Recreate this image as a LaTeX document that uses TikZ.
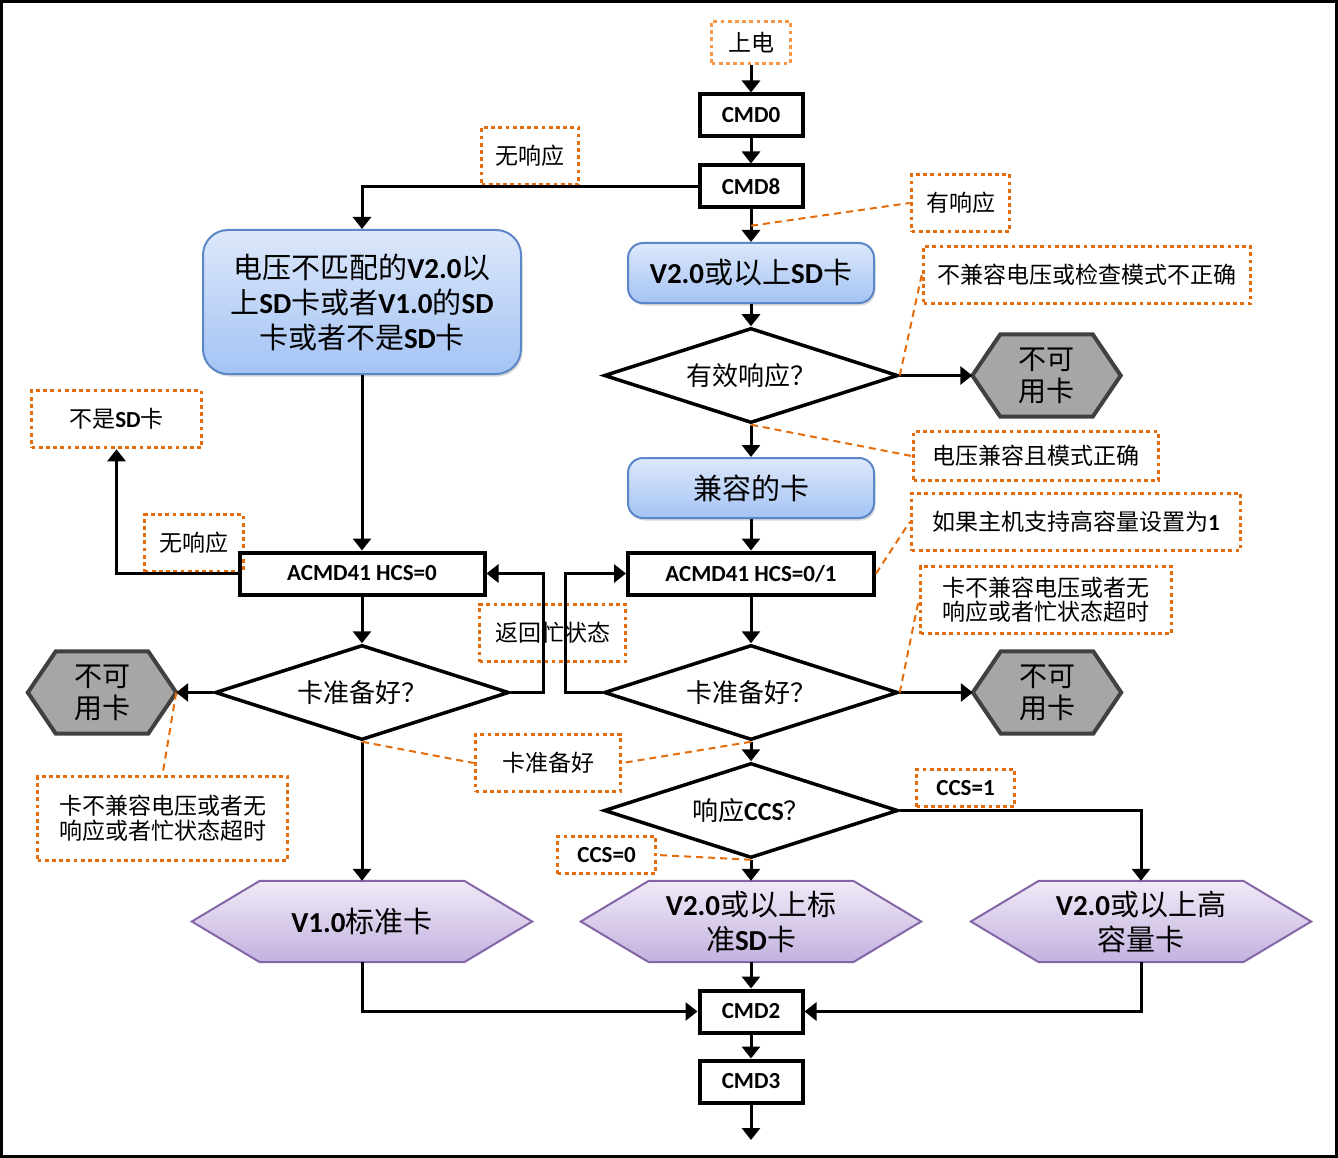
\documentclass[tikz,border=0pt]{standalone}
\usepackage{fontspec}
\setmainfont{Noto Sans CJK SC}
\newfontfamily\carl{Carlito}
\usetikzlibrary{shapes.geometric,arrows.meta,backgrounds,shadows,calc}
\newcommand\LT[1]{{\carl\bfseries #1}}
\newcommand\hexdraw[3]{\path[#3] ($(#1.north west)+(#2,0)$) -- ($(#1.north east)+(-#2,0)$) -- (#1.east) -- ($(#1.south east)+(-#2,0)$) -- ($(#1.south west)+(#2,0)$) -- (#1.west) -- cycle;}
\definecolor{lblorange}{HTML}{E46C0A}
\definecolor{lightorange}{HTML}{F79646}
\definecolor{bluetop}{HTML}{DDE8FB}
\definecolor{bluebot}{HTML}{A4C3F4}
\definecolor{blueedge}{HTML}{5B87C8}
\definecolor{purtop}{HTML}{F0EAF7}
\definecolor{purbot}{HTML}{C3B1DF}
\definecolor{puredge}{HTML}{8466A8}
\definecolor{grayfill}{HTML}{A6A6A6}
\definecolor{grayedge}{HTML}{404040}
\begin{document}
\begin{tikzpicture}[x=1pt,y=-1pt,
  conn/.style={line width=3pt, -{Triangle[length=12pt,width=18pt]}},
  lead/.style={draw=lblorange, line width=2pt, dash pattern=on 7pt off 5pt},
  lbl/.style={draw=lblorange, line width=3.6pt, dash pattern=on 3.8pt off 3.4pt, inner sep=0pt, font=\fontsize{23}{25}\selectfont, align=center},
  cmd/.style={draw, line width=4pt, inner sep=0pt, minimum width=103pt, minimum height=42pt, font=\fontsize{23}{24}\selectfont\carl\bfseries},
  dia/.style={diamond, draw, line width=3.5pt, minimum width=294pt, minimum height=95pt, inner sep=0pt, aspect=3, font=\fontsize{26}{28}\selectfont},
  bluebox/.style={draw=blueedge, line width=2pt, rounded corners=15pt, top color=bluetop, bottom color=bluebot, drop shadow={shadow xshift=1.5pt, shadow yshift=-2.5pt, opacity=0.3}, inner sep=0pt, align=center, font=\fontsize{29}{35}\selectfont},
  hexg/.style={minimum width=148pt, minimum height=82pt, inner sep=0pt, align=center, font=\fontsize{28}{32}\selectfont},
  hexp/.style={minimum width=340pt, minimum height=81pt, inner sep=0pt, align=center, font=\fontsize{29}{35}\selectfont}
]
\useasboundingbox (0,0) rectangle (1338,1158);
\draw[line width=3pt] (1.5,1.5) rectangle (1336.5,1156.5);

% nodes
\node[lbl, draw=lightorange, minimum width=79pt, minimum height=42pt] (pwr) at (751,42.5) {上电};
\node[cmd] (cmd0) at (751,115.5) {CMD0};
\node[cmd] (cmd8) at (751,186.5) {CMD8};
\node[lbl, minimum width=97pt, minimum height=57pt] (nr1) at (530,156) {无响应};
\node[lbl, minimum width=98pt, minimum height=57pt] (yr) at (960.5,203) {有响应};
\node[bluebox, minimum width=246pt, minimum height=60pt] (v2) at (751,273) {\LT{V2.0}或以上\LT{SD}卡};
\node[lbl, minimum width=327pt, minimum height=57pt] (badv) at (1087,275) {不兼容电压或检查模式不正确};
\node[bluebox, rounded corners=25pt, minimum width=318pt, minimum height=144pt] (big) at (362,302) {电压不匹配的\LT{V2.0}以\\上\LT{SD}卡或者\LT{V1.0}的\LT{SD}\\卡或者不是\LT{SD}卡};
\node[dia] (d1) at (751,375.5) {有效响应？};
\node[hexg] (h1) at (1046.5,375.5) {不可\\用卡};
\node[lbl, minimum width=245pt, minimum height=49pt] (okv) at (1036,456) {电压兼容且模式正确};
\node[bluebox, minimum width=246pt, minimum height=60pt] (compat) at (751,488) {兼容的卡};
\node[lbl, minimum width=329pt, minimum height=57pt] (hcs) at (1076,522) {如果主机支持高容量设置为\LT{1}};
\node[cmd, minimum width=246pt] (a01) at (751,573.5) {ACMD41 HCS=0/1};
\node[lbl, minimum width=251pt, minimum height=67pt, font=\fontsize{23}{24}\selectfont] (rfail) at (1046,600) {卡不兼容电压或者无\\响应或者忙状态超时};
\node[dia] (dr) at (751,692.5) {卡准备好？};
\node[hexg] (h2) at (1047,692.5) {不可\\用卡};
\node[lbl, minimum width=170pt, minimum height=57pt] (notsd) at (116.5,419) {不是\LT{SD}卡};
\node[lbl, minimum width=99pt, minimum height=57pt] (nr2) at (194,543) {无响应};
\node[cmd, minimum width=245pt] (a0) at (362,573.5) {ACMD41 HCS=0};
\node[lbl, minimum width=146pt, minimum height=57pt] (busy) at (552.5,633) {返回忙状态};
\node[dia] (dl) at (362,692.5) {卡准备好？};
\node[hexg] (h3) at (102,692.5) {不可\\用卡};
\node[lbl, minimum width=145pt, minimum height=57pt] (ready) at (548,763) {卡准备好};
\node[lbl, minimum width=250pt, minimum height=84pt, font=\fontsize{23}{25}\selectfont] (lfail) at (162.5,818.5) {卡不兼容电压或者无\\响应或者忙状态超时};
\node[dia] (dc) at (751,810.5) {响应\LT{CCS}？};
\node[lbl, minimum width=98pt, minimum height=37pt, font=\fontsize{23}{24}\selectfont\carl\bfseries] (ccs1) at (965.5,788) {CCS=1};
\node[lbl, minimum width=98pt, minimum height=37pt, font=\fontsize{23}{24}\selectfont\carl\bfseries] (ccs0) at (606.5,855) {CCS=0};
\node[hexp] (p1) at (362,921.5) {\LT{V1.0}标准卡};
\node[hexp] (p2) at (751,921.5) {\LT{V2.0}或以上标\\准\LT{SD}卡};
\node[hexp] (p3) at (1141,921.5) {\LT{V2.0}或以上高\\容量卡};
\node[cmd] (cmd2) at (751,1011.5) {CMD2};
\node[cmd] (cmd3) at (751,1081.5) {CMD3};
\coordinate (endpt) at (751,1140);

\begin{scope}[on background layer]
\hexdraw{h1}{28}{fill=grayfill, draw=grayedge, line width=4pt}
\hexdraw{h2}{28}{fill=grayfill, draw=grayedge, line width=4pt}
\hexdraw{h3}{28}{fill=grayfill, draw=grayedge, line width=4pt}
\hexdraw{p1}{68}{top color=purtop, bottom color=purbot, draw=puredge, line width=2pt}
\hexdraw{p2}{68}{top color=purtop, bottom color=purbot, draw=puredge, line width=2pt}
\hexdraw{p3}{68}{top color=purtop, bottom color=purbot, draw=puredge, line width=2pt}
\end{scope}

% connectors
\draw[conn] (pwr.south) -- (cmd0.north);
\draw[conn] (cmd0) -- (cmd8);
\draw[conn] (cmd8) -- (v2);
\draw[conn] (cmd8.west) -| (big.north);
\draw[conn] (v2) -- (d1);
\draw[conn] (d1.east) -- (h1.west);
\draw[conn] (d1) -- (compat);
\draw[conn] (compat) -- (a01);
\draw[conn] (a01) -- (dr);
\draw[conn] (dr.east) -- (h2.west);
\draw[conn] (dr.west) -- ++(-37,0) |- (a01.west);
\draw[conn] (dr) -- (dc);
\draw[conn] (dc) -- (p2);
\draw[conn] (dc.east) -| (p3.north);
\draw[conn] (big) -- (a0);
\draw[conn] (a0.west) -| (notsd.south);
\draw[conn] (a0) -- (dl);
\draw[conn] (dl.east) -- ++(33,0) |- (a0.east);
\draw[conn] (dl.west) -- (h3.east);
\draw[conn] (dl) -- (p1);
\draw[conn] (p1.south) |- (cmd2.west);
\draw[conn] (p2) -- (cmd2);
\draw[conn] (p3.south) |- (cmd2.east);
\draw[conn] (cmd2) -- (cmd3);
\draw[conn] (cmd3) -- (endpt);

% leaders
\coordinate (yrpt) at ($(cmd8.south)!0.5!(v2.north)$);
\draw[lead] (yrpt) -- (yr.west);
\draw[lead] (d1.east) -- (badv.west);
\draw[lead] (d1.south) -- (okv.west);
\draw[lead] (a01.east) -- (hcs.west);
\draw[lead] (dr.east) -- (rfail.west);
\draw[lead] (dr.south) -- (ready.east);
\draw[lead] (dl.south) -- (ready.west);
\draw[lead] (dc.south) -- (ccs0.east);
\draw[lead] (h3.east) -- (lfail.north);
\end{tikzpicture}
\end{document}
